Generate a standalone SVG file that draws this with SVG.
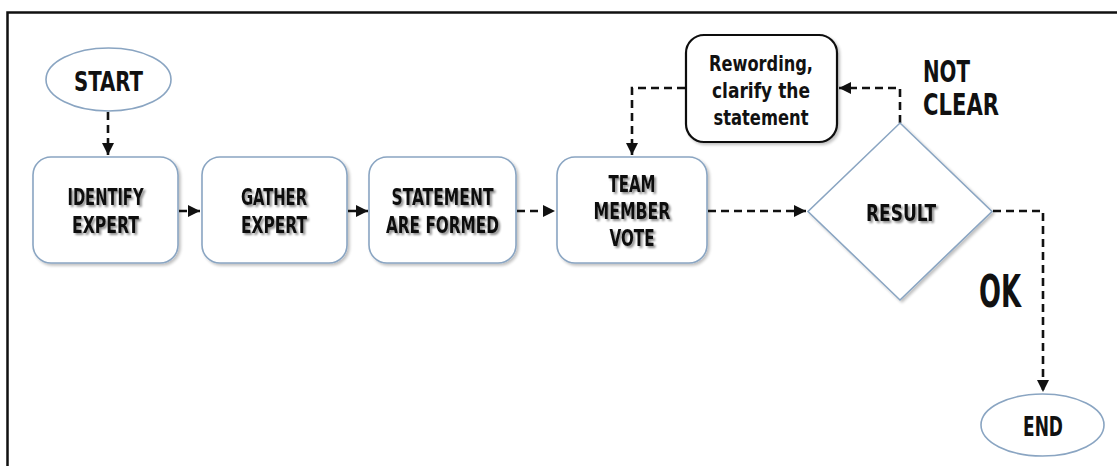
<svg xmlns="http://www.w3.org/2000/svg" width="1117" height="466" viewBox="0 0 1117 466">
<style>
.node{fill:#ffffff;stroke:#8aa5c2;stroke-width:1.6}
.rew{fill:#ffffff;stroke:#111111;stroke-width:2.2}
.t{font-family:"DejaVu Sans Condensed","DejaVu Sans","Liberation Sans",sans-serif;font-weight:bold;fill:#111111;text-anchor:middle}
.lbl{font-family:"DejaVu Sans Condensed","DejaVu Sans","Liberation Sans",sans-serif;font-weight:bold;fill:#111111}
.c{fill:none;stroke:#111111;stroke-width:2.6;stroke-dasharray:8 5}
</style>
<defs>
<marker id="ah" markerUnits="userSpaceOnUse" markerWidth="12" markerHeight="12" viewBox="0 0 10 10" refX="10" refY="5" orient="auto">
<path d="M0,0 L10,5 L0,10 Z" fill="#111111"/>
</marker>
<filter id="bs" x="-10%" y="-10%" width="125%" height="125%">
<feGaussianBlur in="SourceAlpha" stdDeviation="1.5"/>
<feOffset dx="1.5" dy="2" result="o"/>
<feComponentTransfer><feFuncA type="linear" slope="0.25"/></feComponentTransfer>
<feMerge><feMergeNode/><feMergeNode in="SourceGraphic"/></feMerge>
</filter>
<filter id="ts" x="-10%" y="-20%" width="130%" height="160%">
<feGaussianBlur in="SourceAlpha" stdDeviation="1.2"/>
<feOffset dx="1.5" dy="1.5" result="o"/>
<feComponentTransfer><feFuncA type="linear" slope="0.45"/></feComponentTransfer>
<feMerge><feMergeNode/><feMergeNode in="SourceGraphic"/></feMerge>
</filter>
</defs>
<rect x="0" y="0" width="1117" height="466" fill="#ffffff"/>
<rect x="7.5" y="12.5" width="1200" height="520" fill="none" stroke="#111111" stroke-width="2.5"/>

<g id="connectors">
<path class="c" d="M108,112 V155" marker-end="url(#ah)"/>
<path class="c" d="M179,211 H200" marker-end="url(#ah)"/>
<path class="c" d="M348,211 H368" marker-end="url(#ah)"/>
<path class="c" d="M517,211 H555" marker-end="url(#ah)"/>
<path class="c" d="M708,211 H806" marker-end="url(#ah)"/>
<path class="c" d="M900,123 V88 H839" marker-end="url(#ah)"/>
<path class="c" d="M685,88 H632 V155" marker-end="url(#ah)"/>
<path class="c" d="M993,211 H1043 V392" marker-end="url(#ah)"/>
</g>

<g id="start">
<ellipse class="node" cx="108.5" cy="79.5" rx="62.5" ry="31.5"/>
<text class="t" x="108.5" y="91" font-size="27" textLength="69" lengthAdjust="spacingAndGlyphs">START</text>
</g>

<g id="identify">
<rect class="node" x="33" y="157" width="145" height="106" rx="18" filter="url(#bs)"/>
<g filter="url(#ts)">
<text class="t" x="105.5" y="205" font-size="23" textLength="76" lengthAdjust="spacingAndGlyphs">IDENTIFY</text>
<text class="t" x="105.5" y="233" font-size="23" textLength="67" lengthAdjust="spacingAndGlyphs">EXPERT</text>
</g>
</g>

<g id="gather">
<rect class="node" x="202" y="157" width="145" height="106" rx="18" filter="url(#bs)"/>
<g filter="url(#ts)">
<text class="t" x="274" y="205" font-size="23" textLength="66" lengthAdjust="spacingAndGlyphs">GATHER</text>
<text class="t" x="274" y="233" font-size="23" textLength="66" lengthAdjust="spacingAndGlyphs">EXPERT</text>
</g>
</g>

<g id="statement">
<rect class="node" x="369" y="157" width="147" height="106" rx="18" filter="url(#bs)"/>
<g filter="url(#ts)">
<text class="t" x="442.5" y="205" font-size="23" textLength="102" lengthAdjust="spacingAndGlyphs">STATEMENT</text>
<text class="t" x="442.5" y="233" font-size="23" textLength="113" lengthAdjust="spacingAndGlyphs">ARE FORMED</text>
</g>
</g>

<g id="vote">
<rect class="node" x="557" y="157" width="150" height="106" rx="18" filter="url(#bs)"/>
<g filter="url(#ts)">
<text class="t" x="632" y="192" font-size="23" textLength="47" lengthAdjust="spacingAndGlyphs">TEAM</text>
<text class="t" x="632" y="219" font-size="23" textLength="77" lengthAdjust="spacingAndGlyphs">MEMBER</text>
<text class="t" x="632" y="246" font-size="23" textLength="45" lengthAdjust="spacingAndGlyphs">VOTE</text>
</g>
</g>

<g id="result">
<polygon class="node" points="900,123 992,211.5 900,300 808,211.5" filter="url(#bs)"/>
<text class="t" x="901" y="221" font-size="23" textLength="70" lengthAdjust="spacingAndGlyphs" filter="url(#ts)">RESULT</text>
</g>

<g id="rewording">
<rect class="rew" x="686" y="35" width="151" height="107" rx="18" filter="url(#bs)"/>
<text class="t" x="761" y="71" font-size="22" textLength="104" lengthAdjust="spacingAndGlyphs">Rewording,</text>
<text class="t" x="761" y="98" font-size="22" textLength="98" lengthAdjust="spacingAndGlyphs">clarify the</text>
<text class="t" x="761" y="125" font-size="22" textLength="95" lengthAdjust="spacingAndGlyphs">statement</text>
</g>

<g id="end">
<ellipse class="node" cx="1042.5" cy="425" rx="61.5" ry="31"/>
<text class="t" x="1043" y="436" font-size="26" textLength="40" lengthAdjust="spacingAndGlyphs">END</text>
</g>

<g id="labels">
<text class="lbl" x="923" y="82" font-size="30" textLength="47" lengthAdjust="spacingAndGlyphs">NOT</text>
<text class="lbl" x="923" y="115" font-size="30" textLength="76" lengthAdjust="spacingAndGlyphs">CLEAR</text>
<text class="lbl" x="979" y="307" font-size="44" textLength="42" lengthAdjust="spacingAndGlyphs">OK</text>
</g>
</svg>
